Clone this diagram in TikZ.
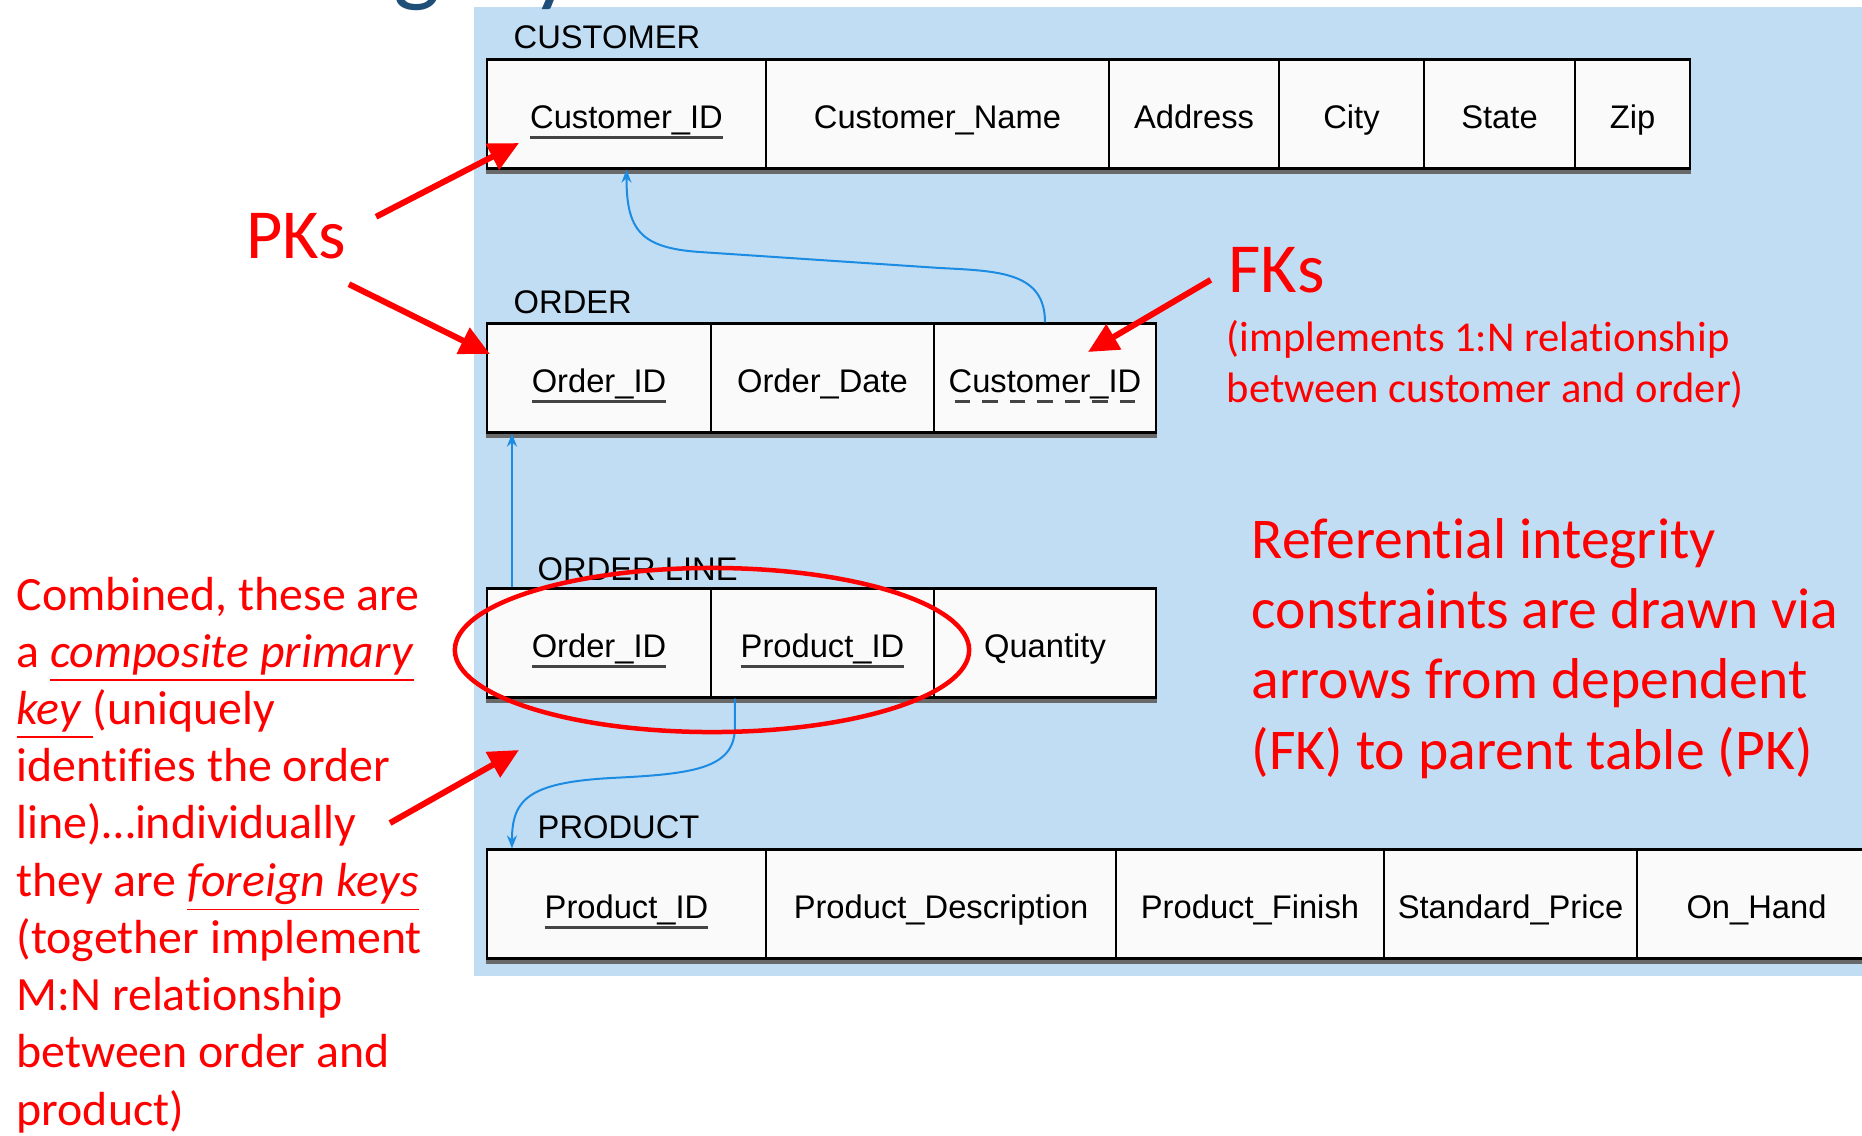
\documentclass[tikz,border=0pt]{standalone}
\usepackage{fontspec}
\setmainfont{Carlito}[Ligatures=NoCommon]
\setsansfont{Liberation Sans}
\usetikzlibrary{arrows.meta}
\definecolor{PanelBlue}{HTML}{C1DDF4}
\definecolor{CellWhite}{HTML}{FAFAFA}
\definecolor{LinkBlue}{HTML}{1C8CE3}
\definecolor{NoteRed}{HTML}{FF0000}
\definecolor{TitleBlue}{HTML}{1F4E79}
\definecolor{KeyGray}{HTML}{444444}
\newsavebox{\keybox}
\newcommand{\pk}[1]{\sbox{\keybox}{#1}\rlap{\color{KeyGray}\rule[-3.1pt]{\wd\keybox}{0.8pt}}\usebox{\keybox}}
\newcommand{\fk}[1]{\sbox{\keybox}{#1}\rlap{\raisebox{-3.1pt}{\hbox to \wd\keybox{\color{KeyGray}\xleaders\hbox to 7.8pt{\hss\rule{4.4pt}{0.8pt}\hss}\hfill}}}\usebox{\keybox}}

\begin{document}
\begin{tikzpicture}[x=0.01cm,y=-0.01cm,
    every node/.style={font=\sffamily\fontsize{9.3}{11}\selectfont},
    cell/.style={draw,fill=CellWhite,line width=0.6pt,minimum height=1.09cm,inner sep=0pt,text height=9pt,text depth=1pt},
    tname/.style={anchor=base west,inner sep=0pt},
    note/.style={NoteRed,anchor=base west,inner sep=0pt,align=left},
    link/.style={LinkBlue,line width=0.02cm,-{Stealth[length=0.13cm,width=0.1cm]}},
    point/.style={NoteRed,line width=0.06cm,-{Triangle[length=0.3cm,width=0.28cm]}}]
  \useasboundingbox (0,0) rectangle (1862,1135);
  \fill[white] (0,0) rectangle (1862,1135);
  \fill[PanelBlue] (474,7) rectangle (1862,976);
  \begin{scope}
    \clip (0,0) rectangle (1862,1135);
    \node[TitleBlue,font=\rmfamily\fontsize{28.5}{34}\selectfont,anchor=base west,inner sep=0pt] (title) at (233,-7) {Integrity};
  \end{scope}

  % customer
  \node[tname] (custlbl) at (513,48) {CUSTOMER};
  \foreach \xa/\xb/\nm/\txt in {487/766/custid/\pk{Customer\_ID}, 766/1109/custname/Customer\_Name,
      1109/1279/addr/Address, 1279/1424/city/City, 1424/1575/state/State, 1575/1690/zip/Zip}
    \node[cell,minimum width={(\xb-\xa)*0.01cm}] (\nm) at ({(\xa+\xb)/2},114) {\txt};
  \fill[KeyGray!80] (custid.south west) rectangle ([yshift=-0.04cm]zip.south east);

  % order
  \node[tname] (ordlbl) at (513,313) {ORDER};
  \foreach \xa/\xb/\nm/\txt in {487/711/ordid/\pk{Order\_ID}, 711/934/orddate/Order\_Date, 934/1156/ordcust/\fk{Customer\_ID}}
    \node[cell,minimum width={(\xb-\xa)*0.01cm}] (\nm) at ({(\xa+\xb)/2},378) {\txt};
  \fill[KeyGray!80] (ordid.south west) rectangle ([yshift=-0.04cm]ordcust.south east);

  % order line
  \node[tname] (linelbl) at (537,580) {ORDER LINE};
  \foreach \xa/\xb/\nm/\txt in {487/711/lineord/\pk{Order\_ID}, 711/934/lineprod/\pk{Product\_ID}, 934/1156/qty/Quantity}
    \node[cell,minimum width={(\xb-\xa)*0.01cm}] (\nm) at ({(\xa+\xb)/2},643) {\txt};
  \fill[KeyGray!80] (lineord.south west) rectangle ([yshift=-0.04cm]qty.south east);

  % product
  \node[tname] (prodlbl) at (537,838) {PRODUCT};
  \foreach \xa/\xb/\nm/\txt in {487/766/prodid/\pk{Product\_ID}, 766/1116/proddesc/Product\_Description,
      1116/1384/prodfin/Product\_Finish, 1384/1637/price/Standard\_Price, 1637/1876/onhand/On\_Hand}
    \node[cell,minimum width={(\xb-\xa)*0.01cm}] (\nm) at ({(\xa+\xb)/2},904) {\txt};
  \fill[KeyGray!80] (prodid.south west) rectangle ([yshift=-0.04cm]onhand.south east);

  % references
  \draw[link] (ordcust.north) .. controls +(0,-50) and +(60,3) .. (940,268) -- (700,252)
    .. controls +(-60,-4) and +(0,60) .. (custid.south);
  \draw[link] ([xshift=0.26cm]lineord.north west) -- ([xshift=0.26cm]ordid.south west);
  \draw[link] ([xshift=0.25cm]lineprod.south west) -- ++(0,28) .. controls +(0,40) and +(80,-4) .. ++(-116,51)
    .. controls +(-90,4) and +(0,-50) .. ([xshift=0.26cm]prodid.north west);

  % notes (base = last line)
  \node[note,font=\rmfamily\fontsize{20}{24}\selectfont,anchor=base] (pks) at (296,258) {PKs};
  \node[note,font=\rmfamily\fontsize{20}{24}\selectfont] (fks) at (1228,292) {FKs};
  \node[note,font=\rmfamily\fontsize{12.1}{14.5}\selectfont] (fknote) at (1226,402)
    {(implements 1:N relationship\\between customer and order)};
  \node[note,font=\rmfamily\fontsize{16.4}{19.93}\selectfont] (rinote) at (1251,769)
    {Referential integrity\\constraints are drawn via\\arrows from dependent\\(FK) to parent table (PK)};
  \node[note,font=\rmfamily\fontsize{13.6}{16.27}\selectfont] (cknote) at (16,1125)
    {Combined, these are\\a \underline{\textit{composite primary}}\\\underline{\textit{key}\ }(uniquely\\identifies the order\\line)…individually\\they are \underline{\textit{foreign keys}}\\(together implement\\M:N relationship\\between order and\\product)};
  \draw[NoteRed,line width=0.045cm] (712,650) ellipse [x radius=2.57cm,y radius=0.82cm];

  \coordinate (pktipa) at (519,143);
  \coordinate (pktipb) at (490,354);
  \coordinate (fktip) at (1088,352);
  \coordinate (cktail) at (390,823);
  \coordinate (cktip) at (519,750);
  \draw[point,shorten <=0.9cm] (pks.base) -- (pktipa);
  \draw[point,shorten <=0.59cm] (pks.base) -- (pktipb);
  \draw[point,shorten <=0.2cm] (fks.west) -- (fktip);
  \draw[point] (cktail) -- (cktip);
\end{tikzpicture}
\end{document}
